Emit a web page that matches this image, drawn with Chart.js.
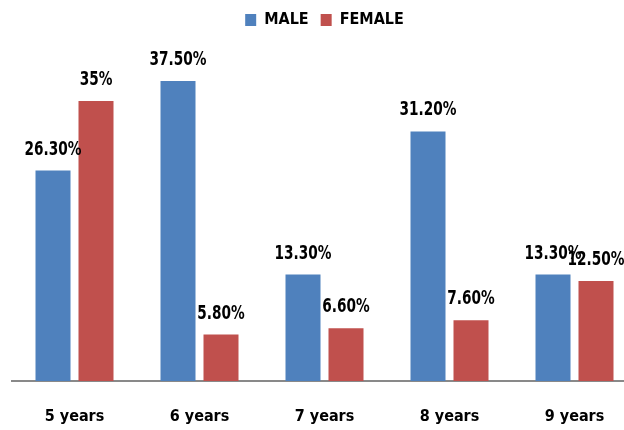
<!DOCTYPE html>
<html>
<head>
<meta charset="utf-8">
<script src="https://cdn.jsdelivr.net/npm/chart.js@4/dist/chart.umd.min.js"></script>
<style>
  html, body { margin: 0; padding: 0; background: #fff; overflow: hidden; }
  #wrap { width: 624px; height: 430px; overflow: hidden; }
</style>
</head>
<body>
<div id="wrap"><canvas id="c" width="640" height="430"></canvas></div>
<script>
// chart values
const categories = ["5 years", "6 years", "7 years", "8 years", "9 years"];
const maleValues = [26.3, 37.5, 13.3, 31.2, 13.3];
const femaleValues = [35, 5.8, 6.6, 7.6, 12.5];
const maleLabels = ["26.30%", "37.50%", "13.30%", "31.20%", "13.30%"];
const femaleLabels = ["35%", "5.80%", "6.60%", "7.60%", "12.50%"];

const FONT = "'DejaVu Sans', sans-serif";

// value labels above each bar (squeezed horizontally, like the narrow source font)
const barLabels = {
  id: "barLabels",
  afterDatasetsDraw(chart) {
    const ctx = chart.ctx;
    const texts = [maleLabels, femaleLabels];
    const sx = 0.72;
    ctx.save();
    ctx.font = "bold 19px " + FONT;
    ctx.fillStyle = "#000";
    ctx.textAlign = "center";
    ctx.textBaseline = "middle";
    chart.data.datasets.forEach((ds, i) => {
      chart.getDatasetMeta(i).data.forEach((bar, j) => {
        ctx.save();
        ctx.translate(bar.x, bar.y - 21);
        ctx.scale(sx, 1);
        ctx.fillText(texts[i][j], 0, 0);
        ctx.restore();
      });
    });
    ctx.restore();
  }
};

// reserve fixed space for the legend so the plot top sits where it should
const legendSpace = {
  id: "legendSpace",
  beforeInit(chart) {
    const fit = chart.legend.fit;
    chart.legend.fit = function () {
      fit.call(this);
      this.height = 61;
    };
  }
};

new Chart(document.getElementById("c"), {
  type: "bar",
  data: {
    labels: categories,
    datasets: [
      { label: "MALE", data: maleValues, backgroundColor: "#4F81BD" },
      { label: "FEMALE", data: femaleValues, backgroundColor: "#C0504D" }
    ]
  },
  options: {
    responsive: false,
    animation: false,
    categoryPercentage: 0.688,
    barPercentage: 0.814,
    layout: { padding: { left: 12, right: 3, top: 0, bottom: 0 } },
    plugins: {
      legend: {
        position: "top",
        labels: {
          boxWidth: 11,
          boxHeight: 12,
          padding: 12,
          color: "#000",
          font: { family: FONT, size: 16, weight: "bold condensed" }
        }
      },
      tooltip: { enabled: false }
    },
    scales: {
      x: {
        grid: { display: false, drawTicks: false },
        border: { display: true, color: "#898989", width: 2 },
        ticks: {
          color: "#000",
          padding: 26,
          font: { family: FONT, size: 16, weight: "bold condensed" }
        },
        afterFit(scale) { scale.height = 49; }
      },
      y: {
        display: false,
        min: 0,
        max: 40
      }
    }
  },
  plugins: [barLabels, legendSpace]
});
</script>
</body>
</html>
